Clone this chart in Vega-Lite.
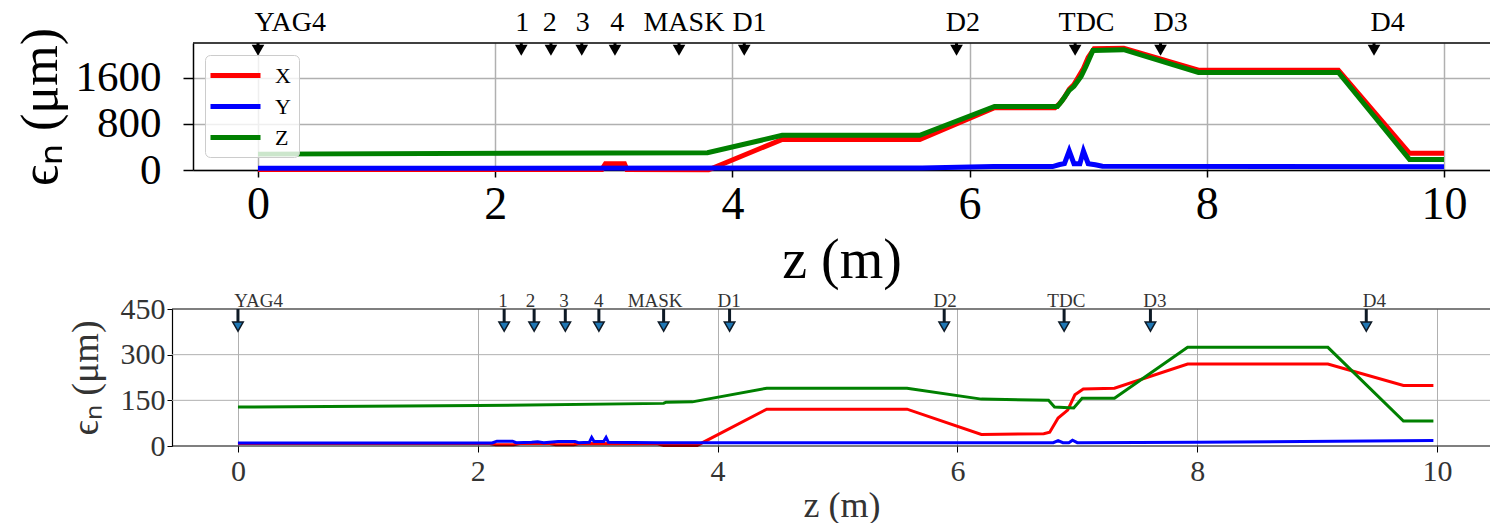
{
  "$schema": "https://vega.github.io/schema/vega-lite/v6.json",
  "background": "white",
  "padding": {"left": 14, "top": 9, "right": 0, "bottom": 0},
  "config": {
    "view": {"stroke": null},
    "font": "Liberation Serif",
    "axis": {"gridColor": "#b0b0b0", "domainColor": "black", "tickColor": "black", "labelFont": "Liberation Serif", "titleFont": "Liberation Serif", "titleFontWeight": "normal"},
    "legend": {"labelFont": "Liberation Serif"}
  },
  "spacing": 4,
  "resolve": {"scale": {"color": "independent"}},
  "datasets": {
    "top": [
      {"s":"X","z":0,"e":10},{"s":"X","z":2.9,"e":10},{"s":"X","z":2.93,"e":110},{"s":"X","z":3.09,"e":110},{"s":"X","z":3.11,"e":10},{"s":"X","z":3.8,"e":5},{"s":"X","z":4.42,"e":530},{"s":"X","z":5.58,"e":530},{"s":"X","z":6.21,"e":1080},{"s":"X","z":6.72,"e":1080},{"s":"X","z":6.76,"e":1150},{"s":"X","z":6.8,"e":1260},{"s":"X","z":6.84,"e":1400},{"s":"X","z":6.88,"e":1480},{"s":"X","z":6.92,"e":1620},{"s":"X","z":6.96,"e":1760},{"s":"X","z":7.0,"e":1950},{"s":"X","z":7.05,"e":2100},{"s":"X","z":7.3,"e":2110},{"s":"X","z":7.93,"e":1730},{"s":"X","z":9.11,"e":1730},{"s":"X","z":9.71,"e":290},{"s":"X","z":10,"e":290},
      {"s":"Y","z":0,"e":30},{"s":"Y","z":5.6,"e":35},{"s":"Y","z":6.2,"e":60},{"s":"Y","z":6.7,"e":60},{"s":"Y","z":6.76,"e":95},{"s":"Y","z":6.8,"e":110},{"s":"Y","z":6.84,"e":330},{"s":"Y","z":6.88,"e":110},{"s":"Y","z":6.93,"e":110},{"s":"Y","z":6.96,"e":330},{"s":"Y","z":7.0,"e":110},{"s":"Y","z":7.06,"e":90},{"s":"Y","z":7.12,"e":65},{"s":"Y","z":10,"e":55},
      {"s":"Z","z":0,"e":275},{"s":"Z","z":3.79,"e":300},{"s":"Z","z":4.42,"e":600},{"s":"Z","z":5.58,"e":600},{"s":"Z","z":6.21,"e":1100},{"s":"Z","z":6.74,"e":1100},{"s":"Z","z":6.78,"e":1200},{"s":"Z","z":6.84,"e":1380},{"s":"Z","z":6.88,"e":1450},{"s":"Z","z":6.94,"e":1620},{"s":"Z","z":6.98,"e":1790},{"s":"Z","z":7.04,"e":2070},{"s":"Z","z":7.3,"e":2085},{"s":"Z","z":7.93,"e":1690},{"s":"Z","z":9.11,"e":1690},{"s":"Z","z":9.71,"e":180},{"s":"Z","z":10,"e":180}
    ],
    "bot": [
      {"s":"X","z":0,"e":8},{"s":"X","z":2.1,"e":8},{"s":"X","z":2.15,"e":4},{"s":"X","z":2.3,"e":4},{"s":"X","z":2.35,"e":8},{"s":"X","z":2.6,"e":8},{"s":"X","z":2.65,"e":4},{"s":"X","z":2.8,"e":4},{"s":"X","z":2.85,"e":8},{"s":"X","z":3.5,"e":7},{"s":"X","z":3.55,"e":2},{"s":"X","z":3.83,"e":2},{"s":"X","z":4.41,"e":121},{"s":"X","z":5.58,"e":121},{"s":"X","z":6.2,"e":38},{"s":"X","z":6.72,"e":40},{"s":"X","z":6.77,"e":45},{"s":"X","z":6.84,"e":92},{"s":"X","z":6.92,"e":118},{"s":"X","z":6.98,"e":168},{"s":"X","z":7.05,"e":187},{"s":"X","z":7.31,"e":190},{"s":"X","z":7.92,"e":269},{"s":"X","z":9.09,"e":269},{"s":"X","z":9.72,"e":199},{"s":"X","z":9.97,"e":199},
      {"s":"Y","z":0,"e":10},{"s":"Y","z":2.12,"e":10},{"s":"Y","z":2.16,"e":16},{"s":"Y","z":2.29,"e":16},{"s":"Y","z":2.32,"e":11},{"s":"Y","z":2.45,"e":12},{"s":"Y","z":2.5,"e":14},{"s":"Y","z":2.55,"e":11},{"s":"Y","z":2.67,"e":15},{"s":"Y","z":2.81,"e":15},{"s":"Y","z":2.84,"e":11},{"s":"Y","z":2.93,"e":12},{"s":"Y","z":2.95,"e":28},{"s":"Y","z":2.97,"e":15},{"s":"Y","z":3.05,"e":15},{"s":"Y","z":3.07,"e":28},{"s":"Y","z":3.09,"e":12},{"s":"Y","z":3.5,"e":11},{"s":"Y","z":6.8,"e":11},{"s":"Y","z":6.84,"e":18},{"s":"Y","z":6.88,"e":11},{"s":"Y","z":6.93,"e":11},{"s":"Y","z":6.96,"e":19},{"s":"Y","z":7.0,"e":11},{"s":"Y","z":8.0,"e":12},{"s":"Y","z":9.97,"e":18},
      {"s":"Z","z":0,"e":128},{"s":"Z","z":2,"e":133},{"s":"Z","z":3.55,"e":140},{"s":"Z","z":3.57,"e":144},{"s":"Z","z":3.79,"e":145},{"s":"Z","z":4.41,"e":190},{"s":"Z","z":5.58,"e":190},{"s":"Z","z":6.2,"e":154},{"s":"Z","z":6.76,"e":150},{"s":"Z","z":6.81,"e":128},{"s":"Z","z":6.97,"e":125},{"s":"Z","z":7.04,"e":157},{"s":"Z","z":7.31,"e":157},{"s":"Z","z":7.92,"e":324},{"s":"Z","z":9.09,"e":324},{"s":"Z","z":9.72,"e":82},{"s":"Z","z":9.97,"e":82}
    ],
    "marks": [
      {"name":"YAG4","z":0,"lx":-0.03},
      {"name":"1","z":2.22,"lx":2.17},
      {"name":"2","z":2.47,"lx":2.40},
      {"name":"3","z":2.73,"lx":2.68},
      {"name":"4","z":3.01,"lx":2.97},
      {"name":"MASK","z":3.55,"lx":3.25},
      {"name":"D1","z":4.10,"lx":4.00},
      {"name":"D2","z":5.89,"lx":5.80},
      {"name":"TDC","z":6.89,"lx":6.75},
      {"name":"D3","z":7.61,"lx":7.55},
      {"name":"D4","z":9.41,"lx":9.38}
    ],
    "bgrid": [{"g": 150}, {"g": 300}]
  },
  "vconcat": [
    {
      "width": 1297,
      "height": 127,
      "layer": [
        {
          "data": {"name": "top"},
          "mark": {"type": "line", "strokeWidth": 5},
          "encoding": {
            "x": {"field": "z", "type": "quantitative", "title": "z (m)",
              "scale": {"domain": [-0.548, 10.388], "nice": false, "zero": false},
              "axis": {"values": [0, 2, 4, 6, 8, 10], "format": "d", "grid": true, "gridWidth": 1.5, "tickSize": 7, "tickWidth": 1.5, "domainWidth": 1.5, "labelFontSize": 46, "labelPadding": 5, "labelColor": "black", "titleFontSize": 56, "titleColor": "black", "titlePadding": 6, "labelFlush": false}},
            "y": {"field": "e", "type": "quantitative", "title": "ϵₙ (μm)",
              "scale": {"domain": [0, 2200], "nice": false},
              "axis": {"values": [0, 800, 1600], "format": "d", "grid": true, "gridWidth": 1.5, "tickSize": 10, "tickWidth": 1.5, "domainWidth": 1.5, "labelFontSize": 43, "labelPadding": 22, "labelColor": "black", "titleFontSize": 52, "titleColor": "black", "titlePadding": 8, "labelFlush": false}},
            "color": {"field": "s", "type": "nominal",
              "scale": {"domain": ["X", "Y", "Z"], "range": ["#ff0000", "#0000ff", "#008000"]},
              "legend": {"orient": "top-left", "offset": 12, "title": null, "symbolType": "M-2.5,0H2.5", "symbolStrokeWidth": 5, "symbolSize": 400, "symbolOffset": 10, "labelFontSize": 22, "labelColor": "black", "labelOffset": 27, "rowPadding": 7, "padding": 8, "fillColor": "rgba(255,255,255,0.8)", "strokeColor": "#cccccc", "cornerRadius": 5}}
          }
        },
        {
          "data": {"values": [{}]},
          "mark": {"type": "rule", "color": "black", "strokeWidth": 1.5},
          "encoding": {"y": {"datum": 2200, "scale": {"domain": [0, 2200], "nice": false}}}
        },
        {
          "data": {"name": "marks"},
          "mark": {"type": "rule", "color": "black", "strokeWidth": 3},
          "encoding": {
            "x": {"field": "z", "type": "quantitative", "title": "z (m)", "scale": {"domain": [-0.548, 10.388], "nice": false, "zero": false}},
            "y": {"datum": 2200},
            "y2": {"datum": 2110}
          }
        },
        {
          "data": {"name": "marks"},
          "mark": {"type": "point", "shape": "triangle-down", "filled": true, "color": "black", "size": 160, "opacity": 1},
          "encoding": {
            "x": {"field": "z", "type": "quantitative", "title": "z (m)", "scale": {"domain": [-0.548, 10.388], "nice": false, "zero": false}},
            "y": {"datum": 2075}
          }
        },
        {
          "data": {"name": "marks"},
          "mark": {"type": "text", "align": "left", "baseline": "alphabetic", "dy": -12, "fontSize": 28, "color": "black", "font": "Liberation Serif"},
          "encoding": {
            "x": {"field": "lx", "type": "quantitative", "title": "z (m)", "scale": {"domain": [-0.548, 10.388], "nice": false, "zero": false}},
            "y": {"datum": 2200},
            "text": {"field": "name"}
          }
        }
      ]
    },
    {
      "width": 1297,
      "height": 137,
      "layer": [
        {
          "data": {"name": "bgrid"},
          "mark": {"type": "rule", "color": "#b0b0b0", "strokeWidth": 1},
          "encoding": {
            "x": {"datum": -0.55, "scale": {"domain": [-0.375, 10.442], "nice": false, "zero": false}},
            "x2": {"datum": 10.442},
            "y": {"field": "g", "type": "quantitative", "title": "ϵₙ (μm)", "scale": {"domain": [0, 450], "nice": false}}
          }
        },
        {
          "data": {"name": "bot"},
          "mark": {"type": "line", "strokeWidth": 3},
          "encoding": {
            "x": {"field": "z", "type": "quantitative", "title": "z (m)",
              "scale": {"domain": [-0.375, 10.442], "nice": false, "zero": false},
              "axis": {"values": [0, 2, 4, 6, 8, 10], "format": "d", "grid": true, "gridWidth": 1, "domain": false, "tickSize": 6, "labelFontSize": 30, "labelPadding": 4, "labelColor": "#333333", "titleFontSize": 36, "titleColor": "#333333", "titlePadding": 2, "labelFlush": false}},
            "y": {"field": "e", "type": "quantitative", "title": "ϵₙ (μm)",
              "scale": {"domain": [0, 450], "nice": false},
              "axis": {"values": [0, 150, 300, 450], "format": "d", "grid": false, "offset": 21, "tickSize": 5, "domainWidth": 1.2, "labelFontSize": 30, "labelPadding": 2, "labelColor": "#333333", "titleFontSize": 38, "titleColor": "#333333", "titlePadding": 15, "labelFlush": false}},
            "color": {"field": "s", "type": "nominal",
              "scale": {"domain": ["X", "Y", "Z"], "range": ["#ff0000", "#0000ff", "#008000"]},
              "legend": null}
          }
        },
        {
          "data": {"values": [{"f": 0}, {"f": 450}]},
          "mark": {"type": "rule", "color": "black", "strokeWidth": 1.2},
          "encoding": {
            "x": {"datum": -0.55, "scale": {"domain": [-0.375, 10.442], "nice": false, "zero": false}},
            "x2": {"datum": 10.442},
            "y": {"field": "f", "type": "quantitative", "title": "ϵₙ (μm)", "scale": {"domain": [0, 450], "nice": false}}
          }
        },
        {
          "data": {"name": "marks"},
          "mark": {"type": "rule", "color": "#0e1a26", "strokeWidth": 3},
          "encoding": {
            "x": {"field": "z", "type": "quantitative", "title": "z (m)", "scale": {"domain": [-0.375, 10.442], "nice": false, "zero": false}},
            "y": {"datum": 450},
            "y2": {"datum": 400}
          }
        },
        {
          "data": {"name": "marks"},
          "mark": {"type": "point", "shape": "triangle-down", "filled": true, "fill": "#1f77b4", "stroke": "#0e1a26", "strokeWidth": 1.5, "size": 110, "opacity": 1},
          "encoding": {
            "x": {"field": "z", "type": "quantitative", "title": "z (m)", "scale": {"domain": [-0.375, 10.442], "nice": false, "zero": false}},
            "y": {"datum": 392}
          }
        },
        {
          "data": {"name": "marks"},
          "mark": {"type": "text", "align": "left", "baseline": "alphabetic", "dy": -2, "fontSize": 19, "color": "#333333", "font": "Liberation Serif"},
          "encoding": {
            "x": {"field": "lx", "type": "quantitative", "title": "z (m)", "scale": {"domain": [-0.375, 10.442], "nice": false, "zero": false}},
            "y": {"datum": 450},
            "text": {"field": "name"}
          }
        }
      ]
    }
  ]
}
